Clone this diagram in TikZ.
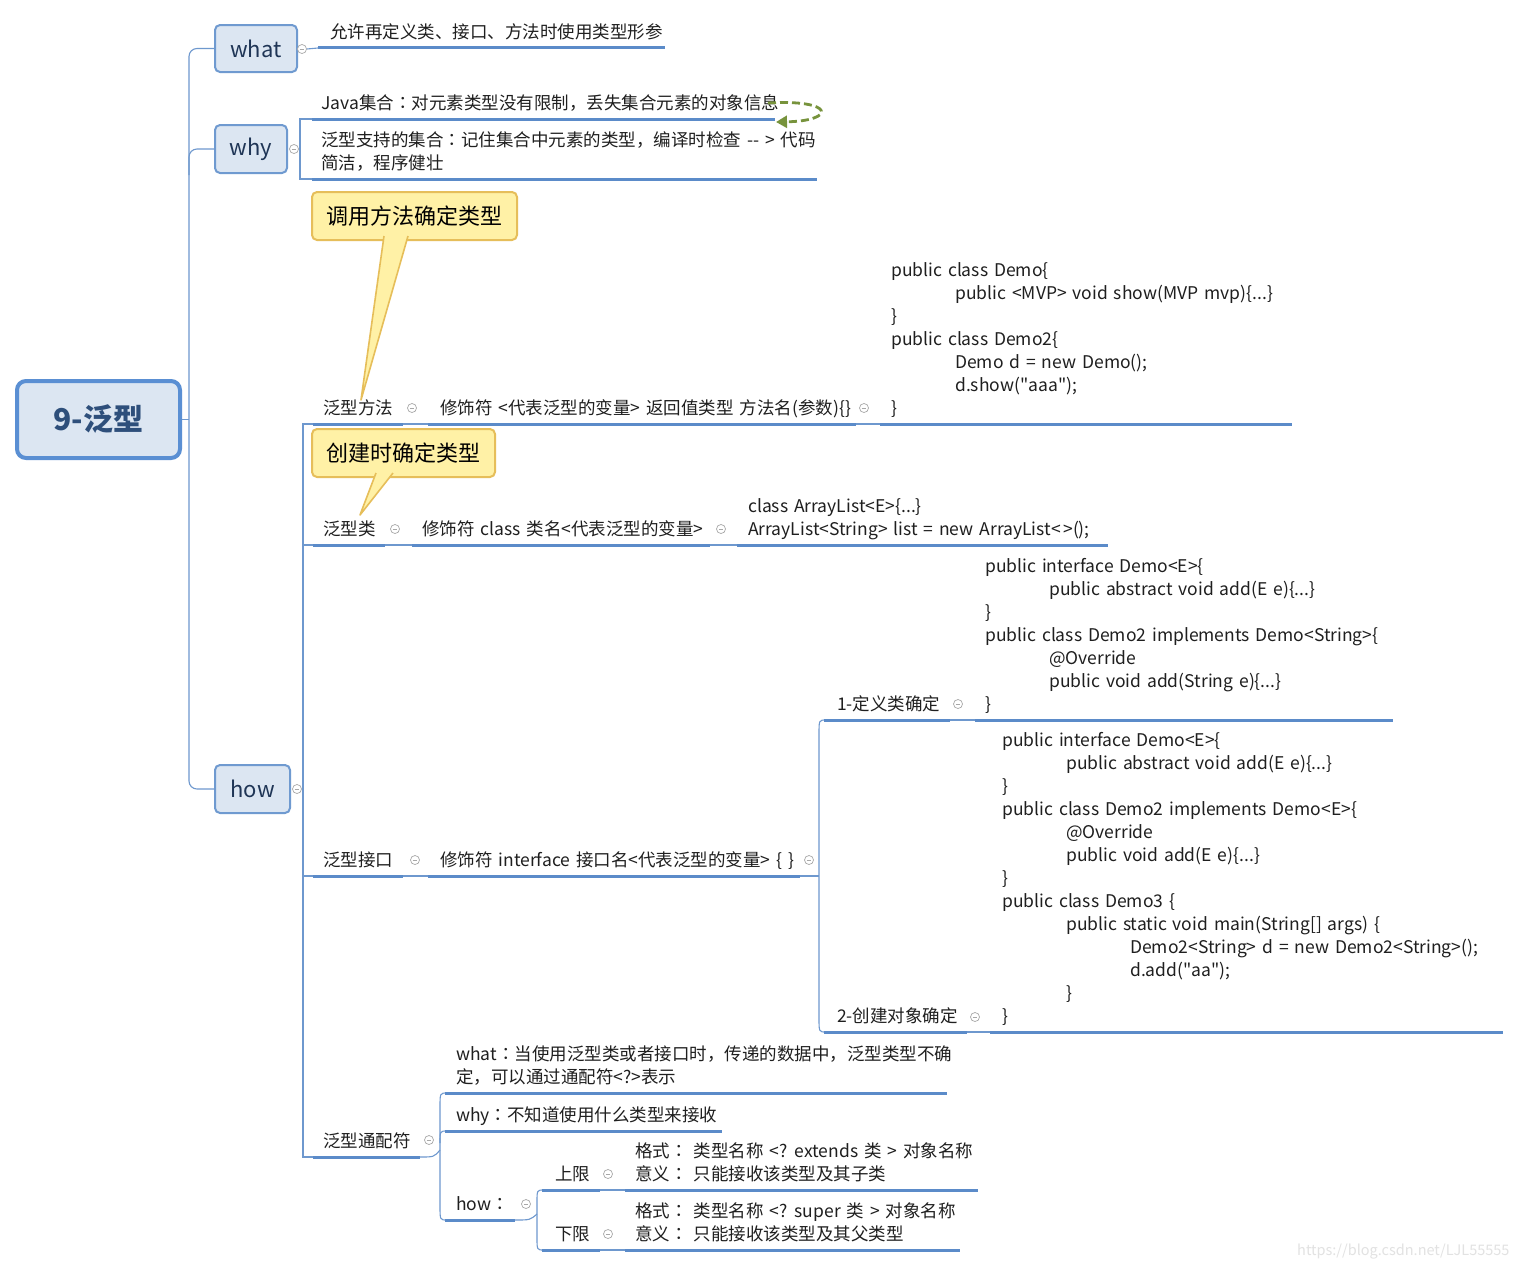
\documentclass[tikz,border=0pt]{standalone}
\usepackage{fontspec}
\newfontfamily\cnfont[WordSpace=1.5,Ligatures={NoCommon}]{Noto Sans CJK SC}
\newfontfamily\tcfont{Noto Sans CJK TC}
\newcommand\colonc{{\tcfont ：}}
\usetikzlibrary{arrows.meta}
\definecolor{ublue}{HTML}{5B8BC9}
\definecolor{cblue}{HTML}{6E98CE}
\definecolor{bfill}{HTML}{DCE6F2}
\definecolor{bborder}{HTML}{6F9AD0}
\definecolor{rborder}{HTML}{5A8FD3}
\definecolor{navy}{HTML}{1F3556}
\definecolor{rootnavy}{HTML}{2E4F7B}
\definecolor{yfill}{HTML}{FFF1A6}
\definecolor{yborder}{HTML}{E6BE5A}
\definecolor{olive}{HTML}{77933C}
\definecolor{colgray}{HTML}{A8A8A8}
\definecolor{wmark}{HTML}{E2E2E2}
\tikzset{
  txt/.style={anchor=base west, inner sep=0pt, font=\cnfont\fontsize{17.5}{23}\selectfont, text=black!88},
  uline/.style={draw=ublue, line width=3pt},
  conn/.style={draw=cblue, line width=1.1pt},
  tbox/.style={draw=bborder, fill=bfill, line width=2pt, rounded corners=5pt, inner sep=0pt, font=\cnfont\fontsize{22}{26}\selectfont, text=navy},
  rootbox/.style={draw=rborder, fill=bfill, line width=4pt, rounded corners=9pt, inner sep=0pt, font=\cnfont\bfseries\fontsize{30}{34}\selectfont, text=rootnavy},
  callbox/.style={draw=yborder, fill=yfill, line width=2pt, rounded corners=5pt, inner sep=0pt, font=\cnfont\fontsize{22}{26}\selectfont, text=black},
  coll/.style={circle, draw=colgray, fill=white, line width=0.7pt, minimum size=9pt, inner sep=0pt,
    path picture={\draw[colgray,line width=0.7pt] ([xshift=2.2pt]path picture bounding box.west) -- ([xshift=-2.2pt]path picture bounding box.east);}}
}
\begin{document}
\begin{tikzpicture}[x=1pt,y=-1pt]
\fill[white] (0,0) rectangle (1522,1267);
\useasboundingbox (0,0) rectangle (1522,1267);

% ---------- main boxes ----------
\node[rootbox, minimum width=163pt, minimum height=77pt] (root) at (98.5,419.5) {9-泛型};
\node[tbox, minimum width=82pt, minimum height=47pt] (what) at (256,48.5) {what};
\node[tbox, minimum width=72pt, minimum height=48pt] (why) at (251,149) {why};
\node[tbox, minimum width=75pt, minimum height=48pt] (how) at (252.5,789) {how};

\draw[conn] (root.east) -- (189,419.5);
\draw[conn, rounded corners=8pt] (what.west) -| (189,789) -- (how.west);
\draw[conn, rounded corners=8pt] (189,175) |- (why.west);

\node[coll] (cw) at (302,49) {};
\node[coll] (cy) at (294,149) {};
\node[coll] (ch) at (297,789) {};

% ---------- what ----------
\draw[conn] (cw.east) -- (318,48);
\node[txt] (wt) at (330,38) {允许再定义类、接口、方法时使用类型形参};
\draw[uline] (318,47) -- (665,47);

% ---------- why ----------
\draw[conn] (cy.east) -- (300,149);
\draw[conn] (312,119) -- (300,119) -- (300,179) -- (312,179);
\node[txt] (y1) at (321,109) {Java集合\colonc 对元素类型没有限制，丢失集合元素的对象信息};
\draw[uline] (312,119) -- (775,119);
\node[txt] (y2a) at (321,146) {泛型支持的集合\colonc 记住集合中元素的类型，编译时检查 -- > 代码};
\node[txt] (y2b) at (321,169) {简洁，程序健壮};
\draw[uline] (312,179) -- (817,179);
\coordinate (ga) at (768,103);
\coordinate (gb) at (776,122);
\draw[olive, line width=2.8pt, dash pattern=on 8pt off 4pt, -{Triangle[length=11pt,width=12pt]}]
  (ga) .. controls (836,99) and (836,121) .. (gb);

% ---------- how: vertical bracket ----------
\draw[conn] (ch.east) -- (303,789);
\draw[conn] (313,424) -- (303,424) -- (303,1157) -- (313,1157);
\draw[conn] (303,545) -- (313,545);
\draw[conn] (303,876) -- (313,876);

% ---------- 泛型方法 ----------
\node[txt] (m0) at (323,414) {泛型方法};
\draw[uline] (313,424) -- (403,424);
\node[coll] (cm0) at (412,408) {};
\draw[conn] (403,424) -- (428,424);
\node[txt] (m1) at (440,414) {修饰符 <代表泛型的变量> 返回值类型 方法名(参数)\{\}};
\draw[uline] (428,424) -- (856,424);
\node[coll] (cm1) at (864,408) {};
\draw[conn] (856,424) -- (880,424);
\node[txt] (mc1) at (891,276) {public class Demo\{};
\node[txt] (mc2) at (955,299) {public <MVP> void show(MVP mvp)\{...\}};
\node[txt] (mc3) at (891,322) {\}};
\node[txt] (mc4) at (891,345) {public class Demo2\{};
\node[txt] (mc5) at (955,368) {Demo d = new Demo();};
\node[txt] (mc6) at (955,391) {d.show("aaa");};
\node[txt] (mc7) at (891,414) {\}};
\draw[uline] (880,424) -- (1292,424);

% ---------- 泛型类 ----------
\node[txt] (k0) at (323,535) {泛型类};
\draw[uline] (313,545) -- (385,545);
\node[coll] (ck0) at (395,529) {};
\draw[conn] (385,545) -- (412,545);
\node[txt] (k1) at (422,535) {修饰符 class 类名<代表泛型的变量>};
\draw[uline] (412,545) -- (710,545);
\node[coll] (ck1) at (721,529) {};
\draw[conn] (710,545) -- (737,545);
\node[txt] (kc1) at (748,512) {class ArrayList<E>\{...\}};
\node[txt] (kc2) at (748,535) {ArrayList<String> list = new ArrayList<\hspace{2.5pt}>();};
\draw[uline] (737,545) -- (1108,545);

% ---------- 泛型接口 ----------
\node[txt] (i0) at (323,866) {泛型接口};
\draw[uline] (313,876) -- (403,876);
\node[coll] (ci0) at (415,860) {};
\draw[conn] (403,876) -- (428,876);
\node[txt] (i1) at (440,866) {修饰符 interface 接口名<代表泛型的变量> \{ \}};
\draw[uline] (428,876) -- (800,876);
\node[coll] (ci1) at (809,860) {};
\draw[conn] (800,876) -- (819,876);
\draw[conn] (826,720) .. controls (819,720) .. (819,734) -- (819,1018) .. controls (819,1032) .. (826,1032);

% 1-定义类确定
\node[txt] (d0) at (837,710) {1-定义类确定};
\draw[uline] (824,720) -- (950,720);
\node[coll] (cd0) at (958,704) {};
\draw[conn] (950,720) -- (975,720);
\node[txt] (dc1) at (985,572) {public interface Demo<E>\{};
\node[txt] (dc2) at (1049,595) {public abstract void add(E e)\{...\}};
\node[txt] (dc3) at (985,618) {\}};
\node[txt] (dc4) at (985,641) {public class Demo2 implements Demo<String>\{};
\node[txt] (dc5) at (1049,664) {@Override};
\node[txt] (dc6) at (1049,687) {public void add(String e)\{...\}};
\node[txt] (dc7) at (985,710) {\}};
\draw[uline] (975,720) -- (1393,720);

% 2-创建对象确定
\node[txt] (e0) at (837,1022) {2-创建对象确定};
\draw[uline] (824,1032) -- (967,1032);
\node[coll] (ce0) at (975,1017) {};
\draw[conn] (967,1032) -- (990,1032);
\node[txt] (ec1) at (1002,746) {public interface Demo<E>\{};
\node[txt] (ec2) at (1066,769) {public abstract void add(E e)\{...\}};
\node[txt] (ec3) at (1002,792) {\}};
\node[txt] (ec4) at (1002,815) {public class Demo2 implements Demo<E>\{};
\node[txt] (ec5) at (1066,838) {@Override};
\node[txt] (ec6) at (1066,861) {public void add(E e)\{...\}};
\node[txt] (ec7) at (1002,884) {\}};
\node[txt] (ec8) at (1002,907) {public class Demo3 \{};
\node[txt] (ec9) at (1066,930) {public static void main(String[] args) \{};
\node[txt] (ec10) at (1130,953) {Demo2<String> d = new Demo2<String>();};
\node[txt] (ec11) at (1130,976) {d.add("aa");};
\node[txt] (ec12) at (1066,999) {\}};
\node[txt] (ec13) at (1002,1022) {\}};
\draw[uline] (990,1032) -- (1503,1032);

% ---------- 泛型通配符 ----------
\node[txt] (w0) at (323,1147) {泛型通配符};
\draw[uline] (313,1157) -- (420,1157);
\node[coll] (cw0) at (429,1140) {};
\draw[conn] (420,1157) .. controls (434,1157) .. (440,1150);
\draw[conn] (447,1093) .. controls (440,1093) .. (440,1107) -- (440,1206) .. controls (440,1220) .. (447,1220);
\draw[conn] (440,1143) .. controls (440,1131) .. (447,1131);
\node[txt] (w1a) at (456,1060) {what\colonc 当使用泛型类或者接口时，传递的数据中，泛型类型不确};
\node[txt] (w1b) at (456,1083) {定，可以通过通配符<?>表示};
\draw[uline] (445,1093) -- (947,1093);
\node[txt] (w2) at (456,1121) {why\colonc 不知道使用什么类型来接收};
\draw[uline] (445,1131) -- (722,1131);
\node[txt] (w3) at (456,1210) {how\colonc};
\draw[uline] (445,1220) -- (515,1220);
\node[coll] (cw3) at (526,1204) {};
\draw[conn] (515,1220) .. controls (530,1220) .. (537,1214);
\draw[conn] (544,1190) .. controls (537,1190) .. (537,1202) -- (537,1238) .. controls (537,1250) .. (544,1250);
% 上限
\node[txt] (u0) at (555,1180) {上限};
\draw[uline] (542,1190) -- (600,1190);
\node[coll] (cu0) at (608,1174) {};
\draw[conn] (600,1190) -- (625,1190);
\node[txt] (u1) at (635,1157) {格式\colonc{} 类型名称 <? extends 类 > 对象名称};
\node[txt] (u2) at (635,1180) {意义\colonc{} 只能接收该类型及其子类};
\draw[uline] (625,1190) -- (978,1190);
% 下限
\node[txt] (l0) at (555,1240) {下限};
\draw[uline] (542,1250) -- (600,1250);
\node[coll] (cl0) at (608,1234) {};
\draw[conn] (600,1250) -- (625,1250);
\node[txt] (l1) at (635,1217) {格式\colonc{} 类型名称 <? super 类 > 对象名称};
\node[txt] (l2) at (635,1240) {意义\colonc{} 只能接收该类型及其父类型};
\draw[uline] (625,1250) -- (960,1250);

% ---------- callouts ----------
\node[callbox, minimum width=205pt, minimum height=48pt] (call1) at (414.5,216) {调用方法确定类型};
\coordinate (t1a) at (384,236);
\coordinate (t1b) at (408,236);
\coordinate (t1c) at (361,400);
\fill[yfill] (t1a) -- (t1c) -- (t1b) -- cycle;
\draw[yborder, line width=1.6pt, line join=round] (t1a) -- (t1c) -- (t1b);

\node[callbox, minimum width=183pt, minimum height=48pt] (call2) at (403.5,453) {创建时确定类型};
\coordinate (t2a) at (376,473);
\coordinate (t2b) at (393,473);
\coordinate (t2c) at (360,515);
\fill[yfill] (t2a) -- (t2c) -- (t2b) -- cycle;
\draw[yborder, line width=1.6pt, line join=round] (t2a) -- (t2c) -- (t2b);

% ---------- watermark ----------
\node[anchor=base west, inner sep=0pt, font=\cnfont\fontsize{14.5}{17}\selectfont, text=wmark] (wm) at (1297,1255) {https://blog.csdn.net/LJL55555};
\end{tikzpicture}
\end{document}
